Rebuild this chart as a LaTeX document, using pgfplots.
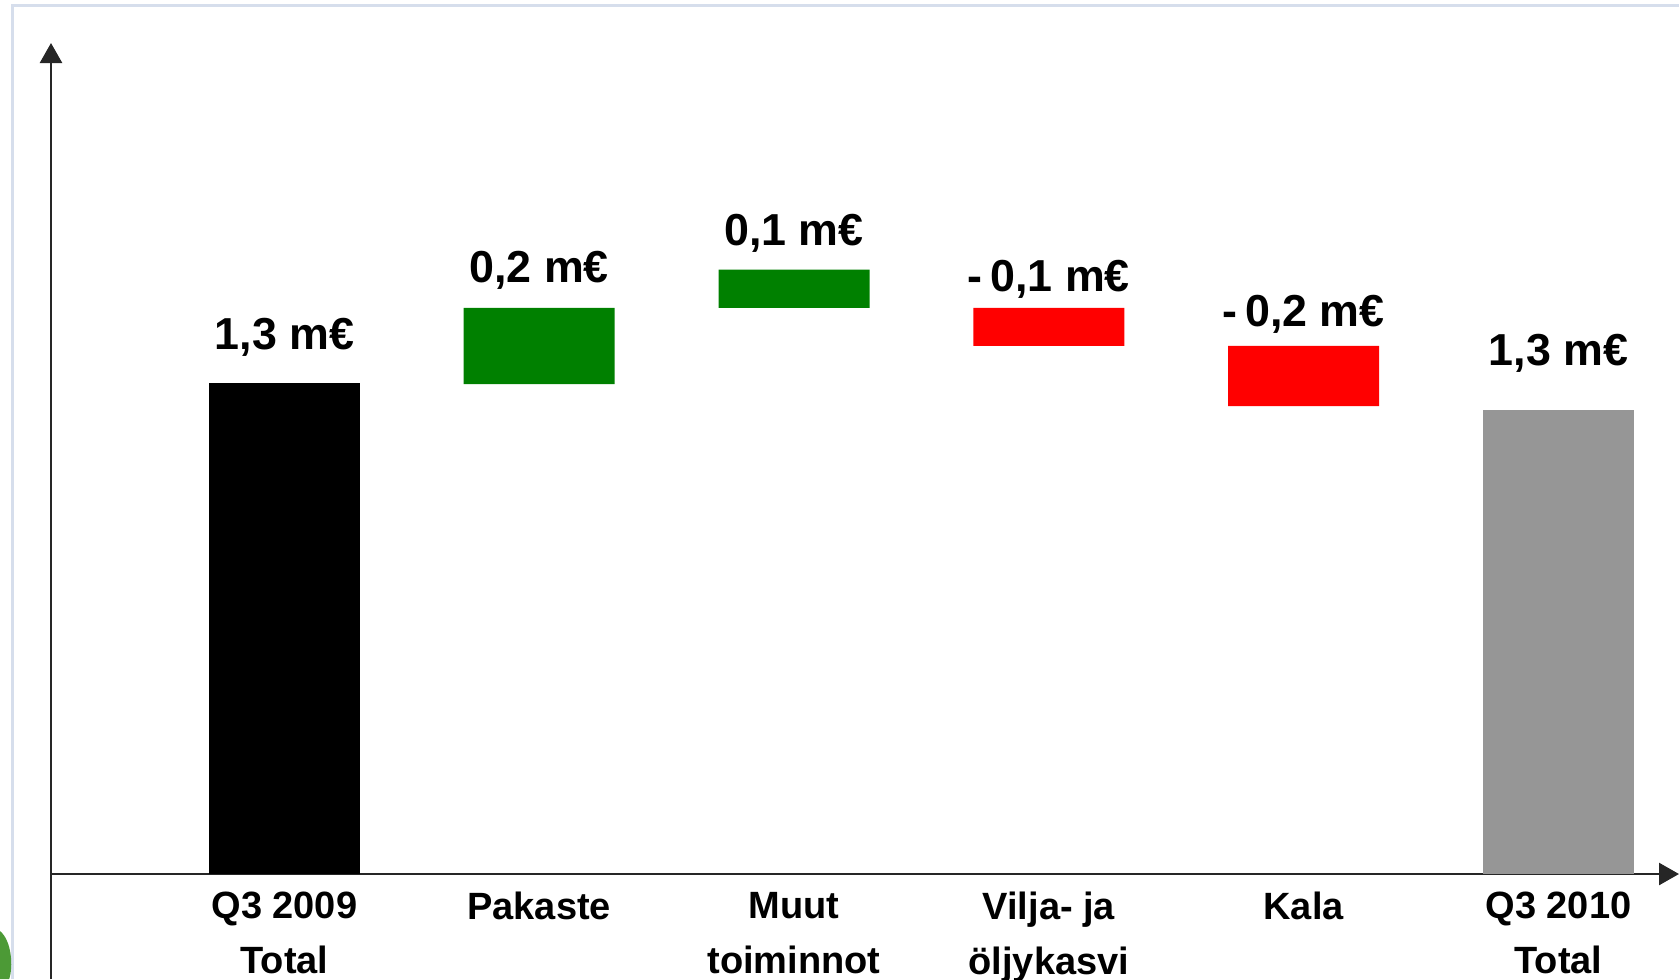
\documentclass[border=0pt]{standalone}
\usepackage{pgfplots}
\pgfplotsset{compat=1.18}
\usepackage{pgfplotstable}
\usetikzlibrary{arrows.meta}
\usepackage{fontspec}
\setmainfont{Liberation Sans}

\definecolor{frameblue}{RGB}{214,222,236}
\definecolor{upgreen}{RGB}{0,128,0}
\definecolor{downred}{RGB}{255,0,0}
\definecolor{totgray}{RGB}{150,150,150}
\definecolor{logogreen}{RGB}{76,154,54}

% waterfall: invisible base + one column per bar colour
\pgfplotstableread{
x base  first up    down  last
0 0     1.300 0     0     0
1 1.297 0     0.202 0     0
2 1.499 0     0.101 0     0
3 1.398 0     0     0.101 0
4 1.239 0     0     0.159 0
5 0     0     0     0     1.228
}\waterfall

% value labels: top of bar, text, gap between bar top and text baseline (pt)
\pgfplotstableread{
x top   lbl          dy
0 1.300 {1,3 m€}     8.25
1 1.499 {0,2 m€}     6.25
2 1.600 {0,1 m€}     6.0
3 1.499 {-\,0,1 m€}  4.0
4 1.398 {-\,0,2 m€}  4.75
5 1.228 {1,3 m€}     11.25
}\labels

\pgfplotsset{frame/.style={
  at={(12.75pt,0pt)}, anchor=south west,
  scale only axis,
  width=407pt, height=234pt,
  xmin=-0.916, xmax=5.473,
  ymin=-0.278, ymax=2.2,
  enlargelimits=false,
}}

\begin{document}
\begin{tikzpicture}[x=1pt,y=1pt]
\useasboundingbox (0,0) rectangle (419.75,244.75);
\draw[frameblue, line width=0.75pt] (3,0) -- (3,243.5) -- (419.75,243.5);
\fill[logogreen] (0,12) .. controls (3,9.5) and (3.3,3) .. (2.3,0) -- (0,0) -- cycle;
\begin{axis}[
  frame,
  axis y line=left,
  axis x line=middle,
  axis line style={draw=black!85, line width=0.65pt, -{Triangle[width=5.5pt,length=5pt]}},
  ybar stacked,
  bar width=37.75pt,
  ytick=\empty,
  xtick={0,...,5},
  xticklabels={{Q3 2009\\Total},{Pakaste},{Muut\\toiminnot},{Vilja- ja\\öljykasvi},{Kala},{Q3 2010\\Total}},
  major tick length=0pt,
  xticklabel style={align=center, font=\fontsize{9.5}{13.75}\selectfont\bfseries, yshift=-1pt},
]
\addplot[draw=none, fill=none] table[x=x, y=base]{\waterfall};
\addplot[draw=none, fill=black] table[x=x, y=first]{\waterfall};
\addplot[draw=none, fill=upgreen] table[x=x, y=up]{\waterfall};
\addplot[draw=none, fill=downred] table[x=x, y=down]{\waterfall};
\addplot[draw=none, fill=totgray] table[x=x, y=last]{\waterfall};
\end{axis}
\begin{axis}[frame, hide axis, clip=false]
\addplot[only marks, mark=none,
  nodes near coords, point meta=explicit symbolic,
  visualization depends on={\thisrow{dy} \as \dy},
  every node near coord/.append style={font=\fontsize{11.2}{13}\selectfont\bfseries, anchor=base, yshift=\dy pt}]
  table[x=x, y=top, meta=lbl]{\labels};
\end{axis}
\end{tikzpicture}
\end{document}
